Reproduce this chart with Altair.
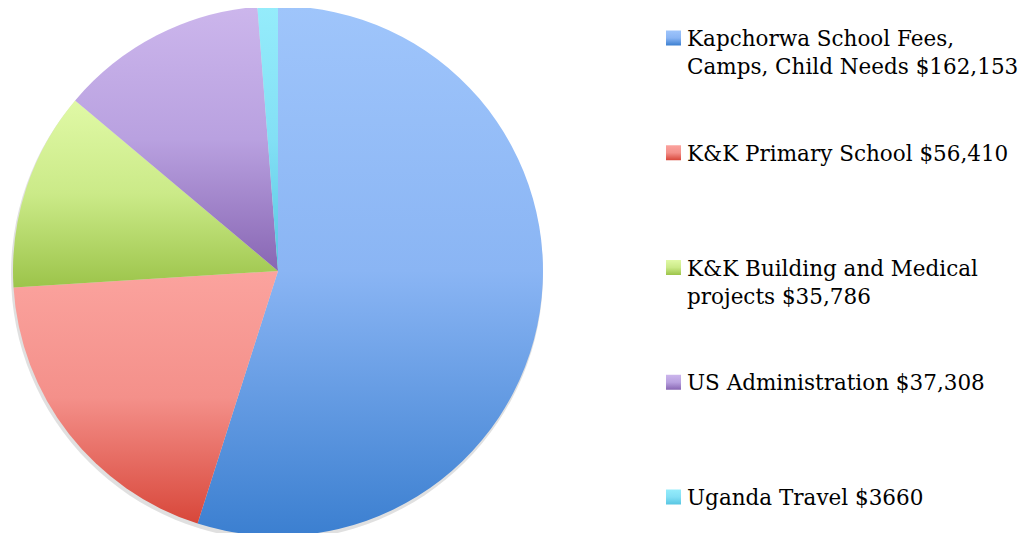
import math
import altair as alt
import pandas as pd

# ---- data ----
categories = [
    "Kapchorwa School Fees, Camps, Child Needs",
    "K&K Primary School",
    "K&K Building and Medical projects",
    "US Administration",
    "Uganda Travel",
]
legend_labels = [
    "Kapchorwa School Fees,\nCamps, Child Needs $162,153",
    "K&K Primary School $56,410",
    "K&K Building and Medical\nprojects $35,786",
    "US Administration $37,308",
    "Uganda Travel $3660",
]
values = [162153, 56410, 35786, 37308, 3660]

# gradient colours (top -> bottom) per slice
slice_grads = [
    ["#9FC5FB", "#8AB5F4", "#3B7FD0"],
    ["#FBA39E", "#F4908A", "#D8473A"],
    ["#E0F9A6", "#CBEA88", "#9CC44A"],
    ["#CCB6EC", "#B9A1E0", "#8866B3"],
    ["#95ECFB", "#83E0F5", "#58C6E2"],
]

df = pd.DataFrame({
    "idx": list(range(len(categories))),
    "category": categories,
    "label": legend_labels,
    "value": values,
})

CX, CY, R = 270, 263, 265


def grad(cols):
    n = len(cols)
    return alt.LinearGradient(
        gradient="linear",
        stops=[alt.GradientStop(color=c, offset=i / (n - 1)) for i, c in enumerate(cols)],
        x1=0, x2=0, y1=0, y2=1,
    )


base = (
    alt.Chart(df)
    .transform_joinaggregate(total="sum(value)")
    .transform_window(cum="sum(value)", sort=[alt.SortField("idx")], frame=[None, 0])
    .transform_calculate(
        start="(datum.cum - datum.value) / datum.total",
        end="datum.cum / datum.total",
    )
)

theta_scale = alt.Scale(domain=[0, 1], range=[0, 2 * math.pi])
y_scale = alt.Scale(domain=list(range(len(categories))), range=[30, 489], padding=0)

# soft shadow under the pie
shadow = base.transform_aggregate(total="sum(value)").transform_calculate(
    s="0", e="1"
).mark_arc(outerRadius=R + 1, fill="#000000", opacity=0.12).encode(
    theta=alt.Theta("s:Q", scale=theta_scale),
    theta2="e:Q",
    x=alt.value(CX - 1),
    y=alt.value(CY + 3),
)

layers = [shadow]
for i, cols in enumerate(slice_grads):
    sub = base.transform_filter(f"datum.idx == {i}")
    arc = sub.mark_arc(outerRadius=R, fill=grad(cols)).encode(
        theta=alt.Theta("start:Q", scale=theta_scale),
        theta2="end:Q",
        x=alt.value(CX),
        y=alt.value(CY),
    )
    sq = sub.mark_square(size=225, fill=grad(cols), opacity=1).encode(
        x=alt.value(665.5),
        y=alt.Y("idx:O", scale=y_scale, axis=None),
    )
    layers += [arc, sq]

text = alt.Chart(df).mark_text(
    align="left",
    baseline="alphabetic",
    dy=8,
    font="DejaVu Serif",
    fontSize=21.5,
    lineBreak="\n",
    lineHeight=28,
    color="#000000",
).encode(
    x=alt.value(679),
    y=alt.Y("idx:O", scale=y_scale, axis=None),
    text="label:N",
)
layers.append(text)

chart = (
    alt.layer(*layers)
    .properties(
        width=1013,
        height=525,
        autosize=alt.AutoSizeParams(type="none"),
        padding=0,
        background="white",
    )
    .configure_view(stroke=None, strokeWidth=0)
)

chart.save("out.html", embed_options={"renderer": "svg", "actions": False})
